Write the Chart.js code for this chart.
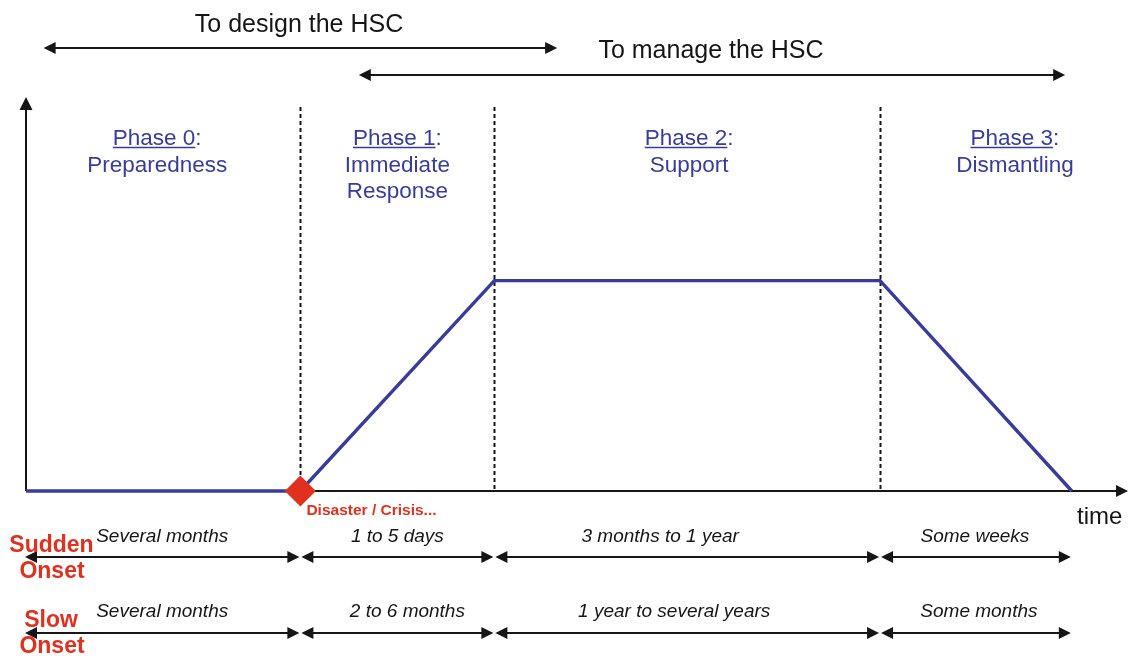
<!DOCTYPE html>
<html><head><meta charset="utf-8">
<script src="https://cdn.jsdelivr.net/npm/chart.js@4/dist/chart.umd.min.js"></script>
<style>html,body{margin:0;padding:0;background:#fff;overflow:hidden}#wrap{width:1129px;height:659px;position:relative}canvas{display:block}</style>
</head><body><div id="wrap"><canvas id="c"></canvas></div>
<script>
// ---- data (time axis in arbitrary units, activity level 0..100) ----
const phaseBounds   = [0, 24.9, 42.5, 77.5, 94.9];
const activityLevel = [0, 0, 53.4, 53.4, 0];
const disasterTime  = [24.9];
const disasterLevel = [0];
const phaseTitles   = ['Phase 0', 'Phase 1', 'Phase 2', 'Phase 3'];
const phaseNames    = [['Preparedness'], ['Immediate', 'Response'], ['Support'], ['Dismantling']];
const suddenDurations = ['Several months', '1 to 5 days', '3 months to 1 year', 'Some weeks'];
const slowDurations   = ['Several months', '2 to 6 months', '1 year to several years', 'Some months'];
const designSpan = [1.6, 48.2];
const manageSpan = [30.2, 94.3];

// ---- styling / layout ----
const BLUE = '#383d9c', RED = '#e0301e', INK = '#161616';
const FONT = '"Liberation Sans", Arial, Helvetica, sans-serif';
const phaseLabelShift = [-6, 0, 2, 39];
const suddenShift = [-1, 0, -27, -1];
const slowShift = [-1, 10, -13, 3];

function head(ctx, x, y, dir, len = 12, half = 6) {
  ctx.beginPath();
  if (dir === 'r') { ctx.moveTo(x, y); ctx.lineTo(x - len, y - half); ctx.lineTo(x - len, y + half); }
  else if (dir === 'l') { ctx.moveTo(x, y); ctx.lineTo(x + len, y - half); ctx.lineTo(x + len, y + half); }
  else { ctx.moveTo(x, y); ctx.lineTo(x - half, y + len); ctx.lineTo(x + half, y + len); }
  ctx.closePath(); ctx.fill();
}
function dbl(ctx, x1, x2, y) {
  ctx.beginPath(); ctx.moveTo(x1 + 8, y); ctx.lineTo(x2 - 8, y); ctx.stroke();
  head(ctx, x1, y, 'l'); head(ctx, x2, y, 'r');
}

const diagram = {
  id: 'diagram',
  beforeDatasetsDraw(chart) {
    const { ctx, chartArea: a, scales: { x } } = chart;
    ctx.save();
    ctx.strokeStyle = INK; ctx.fillStyle = INK; ctx.lineWidth = 2;
    // axes
    ctx.beginPath(); ctx.moveTo(a.left, a.bottom); ctx.lineTo(a.left, a.top + 10); ctx.stroke();
    head(ctx, a.left, a.top, 'u', 13, 6.5);
    ctx.beginPath(); ctx.moveTo(a.left, a.bottom); ctx.lineTo(a.right - 10, a.bottom); ctx.stroke();
    head(ctx, a.right, a.bottom, 'r', 12, 6);
    // dashed phase separators
    ctx.setLineDash([4, 3]); ctx.lineWidth = 2;
    for (let i = 1; i <= 3; i++) {
      const px = Math.round(x.getPixelForValue(phaseBounds[i])) + 0.5;
      ctx.beginPath(); ctx.moveTo(px, a.top + 10); ctx.lineTo(px, a.bottom); ctx.stroke();
    }
    ctx.restore();
  },
  afterDatasetsDraw(chart) {
    const { ctx, chartArea: a, scales: { x } } = chart;
    ctx.save();
    ctx.textBaseline = 'alphabetic';
    // top spans
    ctx.fillStyle = INK; ctx.strokeStyle = INK; ctx.lineWidth = 2;
    ctx.font = '25px ' + FONT; ctx.textAlign = 'center';
    ctx.fillText('To design the HSC', 299, 32);
    ctx.fillText('To manage the HSC', 711, 58);
    dbl(ctx, x.getPixelForValue(designSpan[0]), x.getPixelForValue(designSpan[1]), 48);
    dbl(ctx, x.getPixelForValue(manageSpan[0]), x.getPixelForValue(manageSpan[1]), 75);

    // phase labels
    ctx.fillStyle = BLUE; ctx.strokeStyle = BLUE;
    ctx.font = '22.5px ' + FONT;
    for (let i = 0; i < 4; i++) {
      const cx = (x.getPixelForValue(phaseBounds[i]) + x.getPixelForValue(phaseBounds[i + 1])) / 2 + phaseLabelShift[i];
      const full = phaseTitles[i] + ':';
      const w = ctx.measureText(full).width, wt = ctx.measureText(phaseTitles[i]).width;
      ctx.textAlign = 'left';
      const sx = cx - w / 2;
      ctx.fillText(full, sx, 145);
      ctx.lineWidth = 1.5;
      ctx.beginPath(); ctx.moveTo(sx, 147.5); ctx.lineTo(sx + wt, 147.5); ctx.stroke();
      ctx.textAlign = 'center';
      phaseNames[i].forEach((t, k) => ctx.fillText(t, cx, 172 + k * 26));
    }

    // disaster label
    ctx.fillStyle = RED; ctx.textAlign = 'left';
    ctx.font = 'bold 15.5px ' + FONT;
    ctx.fillText('Disaster / Crisis...', x.getPixelForValue(disasterTime[0]) + 6, a.bottom + 24);

    // time label
    ctx.fillStyle = INK; ctx.font = '24px ' + FONT;
    ctx.fillText('time', 1077, a.bottom + 33);

    // duration rows
    const rows = [
      { labels: suddenDurations, shift: suddenShift, arrowY: a.bottom + 66, textY: a.bottom + 51 },
      { labels: slowDurations, shift: slowShift, arrowY: a.bottom + 142, textY: a.bottom + 126 }
    ];
    rows.forEach(r => {
      ctx.strokeStyle = INK; ctx.fillStyle = INK; ctx.lineWidth = 2;
      for (let i = 0; i < 4; i++) {
        let x1 = x.getPixelForValue(phaseBounds[i]), x2 = x.getPixelForValue(phaseBounds[i + 1]);
        if (i === 0) x1 = a.left - 1;
        dbl(ctx, x1 + (i > 0 ? 1 : 0), x2 - 1, r.arrowY);
      }
      ctx.font = 'italic 19px ' + FONT; ctx.textAlign = 'center';
      for (let i = 0; i < 4; i++) {
        const cx = (x.getPixelForValue(phaseBounds[i]) + x.getPixelForValue(phaseBounds[i + 1])) / 2 + r.shift[i];
        ctx.fillText(r.labels[i], cx, r.textY);
      }
    });

    // onset labels
    ctx.fillStyle = RED; ctx.font = 'bold 23px ' + FONT; ctx.textAlign = 'center';
    ctx.fillText('Sudden', 51.5, a.bottom + 61);
    ctx.fillText('Onset', 52, a.bottom + 87);
    ctx.fillText('Slow', 51, a.bottom + 136);
    ctx.fillText('Onset', 52, a.bottom + 162);
    ctx.restore();
  }
};

new Chart(document.getElementById('c'), {
  type: 'line',
  data: {
    datasets: [
      {
        label: 'Disaster',
        data: disasterTime.map((t, i) => ({ x: t, y: disasterLevel[i] })),
        showLine: false, pointStyle: 'rectRot', pointRadius: 15.5, pointHoverRadius: 15.5,
        pointBackgroundColor: RED, pointBorderWidth: 0, pointBorderColor: RED,
        clip: false, order: 0
      },
      {
        label: 'HSC activity',
        data: phaseBounds.map((t, i) => ({ x: t, y: activityLevel[i] })),
        borderColor: BLUE, borderWidth: 3.4, pointRadius: 0, tension: 0, fill: false,
        borderJoinStyle: 'miter', clip: false, order: 1
      }
    ]
  },
  options: {
    responsive: true, maintainAspectRatio: false, animation: false,
    events: [],
    layout: { autoPadding: false, padding: { left: 26, right: 1, top: 97, bottom: 168 } },
    scales: {
      x: { type: 'linear', min: 0, max: 100, display: false },
      y: { type: 'linear', min: 0, max: 100, display: false }
    },
    plugins: { legend: { display: false }, tooltip: { enabled: false } }
  },
  plugins: [diagram]
});
</script>
</body></html>
